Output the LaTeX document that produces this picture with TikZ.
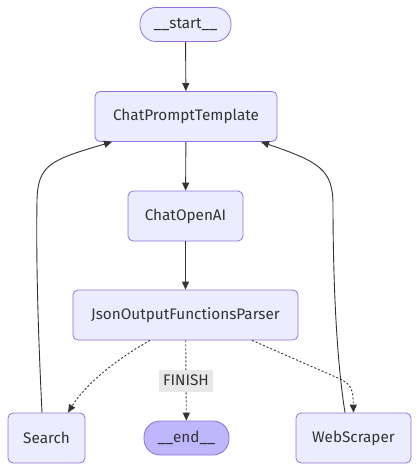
\documentclass[tikz,border=0pt]{standalone}
\usepackage{fontspec}
\setmainfont{Fira Sans}
\usetikzlibrary{arrows.meta}
\definecolor{nodefill}{HTML}{ECECFF}
\definecolor{nodedraw}{HTML}{9370DB}
\definecolor{endfill}{HTML}{BFB6FC}
\definecolor{txt}{HTML}{333333}
\definecolor{lblfill}{HTML}{E8E8E8}
\tikzset{
  box/.style={draw=nodedraw, fill=nodefill, line width=0.8pt, rounded corners=5pt,
    text=txt, font=\fontsize{15.3}{18}\selectfont, inner sep=0pt, minimum height=50pt},
  pill/.style={box, rounded corners=16pt, minimum height=34pt},
  edge/.style={draw=txt, line width=0.9pt, -{Triangle[length=8pt,width=7pt]}},
  dedge/.style={edge, dash pattern=on 2pt off 2pt},
  lbl/.style={fill=lblfill, text=txt, font=\fontsize{15.3}{18}\selectfont, inner sep=0pt, minimum width=54pt, minimum height=22pt}
}
\begin{document}
\begin{tikzpicture}[x=1pt,y=-1pt]
\useasboundingbox (0,0) rectangle (419,471);
\node[pill, minimum width=91pt] (start) at (185.5,24.5) {\_\_start\_\_};
\node[box, minimum width=182pt] (cpt) at (186,116.5) {ChatPromptTemplate};
\node[box, minimum width=115pt] (openai) at (185.5,216) {ChatOpenAI};
\node[box, minimum width=225pt] (parser) at (185.5,315) {JsonOutputFunctionsParser};
\node[box, minimum width=77pt] (search) at (46.5,438) {Search};
\node[pill, minimum width=85pt, fill=endfill] (end) at (186.5,438) {\_\_end\_\_};
\node[box, minimum width=115pt] (web) at (353.5,438) {WebScraper};
\coordinate (sL) at ([xshift=-4.5pt]search.north);
\coordinate (cL) at ([xshift=-74pt]cpt.south);
\coordinate (cR) at ([xshift=75pt]cpt.south);
\coordinate (wR) at ([xshift=-8.5pt]web.north);
\coordinate (pL) at ([xshift=-35.5pt]parser.south);
\coordinate (pR) at ([xshift=66.5pt]parser.south);
\coordinate (sR) at ([xshift=21.5pt]search.north);
\coordinate (wT) at (web.north);
\draw[edge] (start) -- (cpt);
\draw[edge] (cpt) -- (openai);
\draw[edge] (openai) -- (parser);
\draw[edge] (sL) .. controls (38,330) and (36,260) .. (37,200)
  .. controls (38,165) and (50,160) .. (cL);
\draw[edge] (wR) .. controls (335,350) and (333,260) .. (333,205)
  .. controls (333,170) and (320,162) .. (cR);
\draw[dedge] (pL) .. controls (115,360) and (85,385) .. (sR);
\draw[dedge] (pR) -- (338,378) .. controls (352,384) and (353,390) .. (wT);
\draw[dedge] (parser) -- node[lbl] (finish) {FINISH} (end);
\end{tikzpicture}
\end{document}
